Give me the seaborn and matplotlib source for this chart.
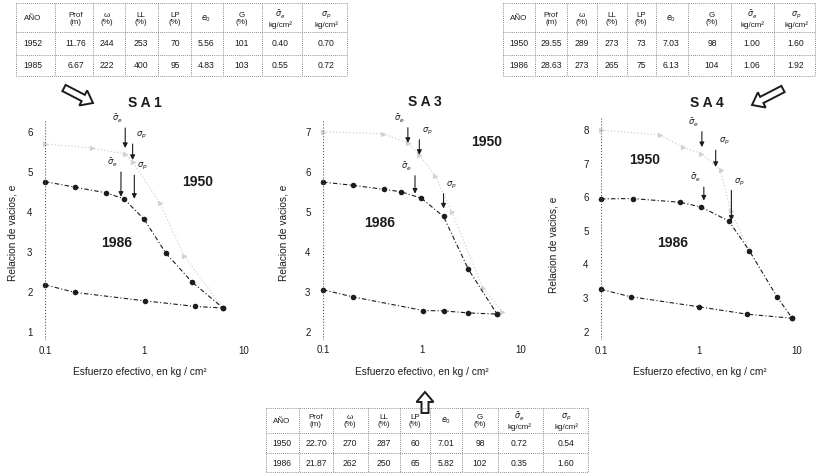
import numpy as np
import pandas as pd
import matplotlib
matplotlib.use("Agg")
import matplotlib.pyplot as plt
import seaborn as sns
from matplotlib.patches import FancyArrow

sns.set_theme(style="white")
plt.rcParams['font.family'] = ['Liberation Sans', 'DejaVu Sans']
plt.rcParams['mathtext.fontset'] = 'dejavusans'

INK = '#1c1c1c'
FAINT = '#d2d2d2'

# ---------------- data ----------------
# SA1
sa1_load_x = [0.1, 0.2, 0.41, 0.62, 0.99, 1.64, 3.0, 6.15]
sa1_load_e = [4.76, 4.62, 4.48, 4.33, 3.82, 2.97, 2.25, 1.60]
sa1_unl_x = [0.1, 0.2, 1.0, 3.2, 6.15]
sa1_unl_e = [2.18, 1.99, 1.78, 1.64, 1.60]
sa1_1950_x = [0.1, 0.3, 0.64, 0.76, 1.43, 2.5, 6.15]
sa1_1950_e = [5.7, 5.6, 5.45, 5.25, 4.22, 2.9, 1.60]
sa1_arrow_x = [0.64, 0.76, 0.58, 0.79]
sa1_arrow_top = [6.1, 5.7, 5.0, 4.92]
sa1_arrow_bot = [5.6, 5.3, 4.38, 4.33]

# SA3
sa3_load_x = [0.1, 0.2, 0.41, 0.61, 0.98, 1.65, 2.94, 5.73]
sa3_load_e = [5.74, 5.66, 5.56, 5.50, 5.34, 4.88, 3.56, 2.44]
sa3_unl_x = [0.1, 0.2, 1.03, 1.65, 2.94, 5.73]
sa3_unl_e = [3.05, 2.87, 2.53, 2.52, 2.47, 2.44]
sa3_1950_x = [0.1, 0.4, 0.72, 0.94, 1.36, 2.0, 4.1, 6.5]
sa3_1950_e = [7.0, 6.95, 6.72, 6.42, 5.9, 5.0, 3.1, 2.5]
sa3_arrow_x = [0.72, 0.94, 0.85, 1.65]
sa3_arrow_top = [7.1, 6.8, 5.9, 5.45]
sa3_arrow_bot = [6.72, 6.42, 5.45, 5.08]

# SA4
sa4_load_x = [0.1, 0.21, 0.64, 1.05, 2.02, 3.26, 6.3, 8.95]
sa4_load_e = [5.95, 5.96, 5.85, 5.71, 5.29, 4.41, 3.02, 2.40]
sa4_unl_x = [0.1, 0.2, 1.0, 3.1, 8.95]
sa4_unl_e = [3.26, 3.04, 2.74, 2.52, 2.40]
sa4_1950_x = [0.1, 0.4, 0.69, 1.06, 1.66, 2.1, 3.26]
sa4_1950_e = [8.0, 7.85, 7.48, 7.3, 6.8, 5.6, 4.41]
sa4_arrow_x = [1.07, 1.48, 1.12, 2.14]
sa4_arrow_top = [7.95, 7.4, 6.3, 6.2]
sa4_arrow_bot = [7.49, 6.9, 5.9, 5.3]

arrow_labels = [r'$\bar{\sigma}_e$', r'$\sigma_p$', r'$\bar{\sigma}_e$', r'$\sigma_p$']

x_ticks = [0.1, 1, 10]
x_tick_labels = ['0.1', '1', '10']
sa1_y_ticks = [1, 2, 3, 4, 5, 6]
sa3_y_ticks = [2, 3, 4, 5, 6, 7]
sa4_y_ticks = [2, 3, 4, 5, 6, 7, 8]

# tables
tbl_headers = ['AÑO', 'Prof\n(m)', 'ω\n(%)', 'LL\n(%)', 'LP\n(%)', r'$e_0$', 'G\n(%)',
               r'$\bar{\sigma}_e$' + '\nkg/cm²', r'$\sigma_p$' + '\nkg/cm²']
sa1_tbl_rows = [['1952', '11.76', '244', '253', '70', '5.56', '101', '0.40', '0.70'],
                ['1985', '6.67', '222', '400', '95', '4.83', '103', '0.55', '0.72']]
sa4_tbl_rows = [['1950', '29.55', '289', '273', '73', '7.03', '98', '1.00', '1.60'],
                ['1986', '28.63', '273', '265', '75', '6.13', '104', '1.06', '1.92']]
sa3_tbl_rows = [['1950', '22.70', '270', '287', '60', '7.01', '98', '0.72', '0.54'],
                ['1986', '21.87', '262', '250', '65', '5.82', '102', '0.35', '1.60']]

# ---------------- figure ----------------
W, H = 816, 473
fig = plt.figure(figsize=(W / 100, H / 100), dpi=100)
fig.patch.set_facecolor('white')

ov = fig.add_axes([0, 0, 1, 1])
ov.set_xlim(0, W)
ov.set_ylim(H, 0)
ov.axis('off')
ov.patch.set_alpha(0)


def px_axes(x0, x1, ytop, ybot):
    ax = fig.add_axes([x0 / W, 1 - ybot / H, (x1 - x0) / W, (ybot - ytop) / H])
    ax.patch.set_alpha(0)
    return ax


def panel(ax, title_xy, title, load_x, load_e, unl_x, unl_e, f_x, f_e,
          ar_x, ar_top, ar_bot, ylim, yticks, lab1950, lab1986, ylab_x, yc, xl_c):
    ax.set_xscale('log')
    sns.lineplot(x=f_x, y=f_e, ax=ax, color=FAINT, linestyle=':', lw=0.9,
                 marker='>', markersize=3, markeredgecolor=FAINT, sort=False,
                 clip_on=False)
    for xs, es in ((load_x, load_e), (unl_x, unl_e)):
        sns.lineplot(x=xs, y=es, ax=ax, color=INK, linestyle=(0, (4, 2, 1, 2)),
                     lw=0.8, marker='o', markersize=4, markeredgewidth=0,
                     sort=False, clip_on=False)
    for i, (xa, t, b) in enumerate(zip(ar_x, ar_top, ar_bot)):
        ax.annotate('', xy=(xa, b), xytext=(xa, t),
                    arrowprops=dict(arrowstyle='-|>', color=INK, lw=0.8,
                                    mutation_scale=7, shrinkA=0, shrinkB=0))
        off = -1 if i % 2 == 0 else 1
        ax.annotate(arrow_labels[i], xy=(xa, t), xytext=(off * 6, 2),
                    textcoords='offset points', ha='center', va='bottom',
                    fontsize=6, color=INK)
    ax.axvline(0.1, ls=':', color='#555', lw=0.8)
    ax.axvline(10, ls=':', color='#dadada', lw=0.7)
    ax.set_xlim(0.1, 10)
    ax.set_ylim(*ylim)
    ax.set_xticks(x_ticks)
    ax.set_xticklabels(x_tick_labels)
    ax.set_yticks(yticks)
    ax.set_yticklabels([str(v) for v in yticks])
    ax.minorticks_off()
    ax.tick_params(length=0, labelsize=7, colors=INK, pad=4)
    ax.tick_params(axis='y', pad=9)
    for s in ax.spines.values():
        s.set_visible(False)
    ax.set_xlabel('')
    ax.set_ylabel('')
    ax.text(lab1950[0], lab1950[1], '1950', fontsize=10, fontweight='bold',
            color=INK, ha='center', va='center')
    ax.text(lab1986[0], lab1986[1], '1986', fontsize=10, fontweight='bold',
            color=INK, ha='center', va='center')
    ov.text(title_xy[0], title_xy[1], title, fontsize=10, fontweight='bold',
            color=INK, ha='center', va='center')
    ov.text(ylab_x, yc, 'Relacion de vacios, e', rotation=90, fontsize=7.3,
            color=INK, ha='center', va='center')
    ov.text(xl_c, 372, 'Esfuerzo efectivo, en kg / cm²', fontsize=7.3,
            color=INK, ha='center', va='center')


ax1 = px_axes(45, 244, 120, 340)
panel(ax1, (145, 103), 'S A 1', sa1_load_x, sa1_load_e, sa1_unl_x, sa1_unl_e,
      sa1_1950_x, sa1_1950_e, sa1_arrow_x, sa1_arrow_top, sa1_arrow_bot,
      (0.8, 6.3), sa1_y_ticks, (3.43, 4.75), (0.53, 3.23), 13, 233, 140)

ax3 = px_axes(323, 521, 119.7, 339.7)
panel(ax3, (425, 102), 'S A 3', sa3_load_x, sa3_load_e, sa3_unl_x, sa3_unl_e,
      sa3_1950_x, sa3_1950_e, sa3_arrow_x, sa3_arrow_top, sa3_arrow_bot,
      (1.8, 7.3), sa3_y_ticks, (4.54, 6.74), (0.377, 4.72), 283, 233, 422)

ax4 = px_axes(601, 797, 118.2, 340.1)
panel(ax4, (707, 103), 'S A 4', sa4_load_x, sa4_load_e, sa4_unl_x, sa4_unl_e,
      sa4_1950_x, sa4_1950_e, sa4_arrow_x, sa4_arrow_top, sa4_arrow_bot,
      (1.75, 8.35), sa4_y_ticks, (0.28, 7.1), (0.54, 4.64), 553, 245, 700)


def draw_table(cols, seps, y_top, y_hsep, y_rsep, y_bot, head_y, row_ys, rows):
    lkw = dict(color='#666', lw=0.6, ls=(0, (1, 1.5)))
    for yy in (y_top, y_hsep, y_rsep, y_bot):
        ov.plot([seps[0], seps[-1]], [yy, yy], **lkw)
    for xx in seps:
        ov.plot([xx, xx], [y_top, y_bot], **lkw)
    for cx, h in zip(cols, tbl_headers):
        ov.text(cx, head_y, h, fontsize=5.8, color=INK, ha='center',
                va='center', linespacing=1.05)
    for ry, row in zip(row_ys, rows):
        for cx, v in zip(cols, row):
            ov.text(cx, ry, v, fontsize=6.2, color=INK, ha='center', va='center')


draw_table([33, 76, 107, 141, 175, 206, 242, 280, 326],
           [16, 55, 93, 125, 158, 191, 223, 262, 302, 347],
           3, 32, 55, 76, 19, [43, 66], sa1_tbl_rows)
draw_table([519, 551, 582, 612, 641, 671, 712, 752, 796],
           [503, 535, 567, 597, 627, 656, 688, 731, 774, 815],
           3, 32, 55, 76, 19, [43, 66], sa4_tbl_rows)
draw_table([282, 316, 350, 384, 415, 446, 480, 519, 566],
           [266, 299, 333, 368, 400, 430, 462, 498, 543, 588],
           408, 433, 453, 472, 421, [443, 463], sa3_tbl_rows)

# hollow pointer arrows
akw = dict(fill=False, ec=INK, lw=1.4, length_includes_head=True)
ov.add_patch(FancyArrow(64, 88, 29, 15, width=7, head_width=17, head_length=11, **akw))
ov.add_patch(FancyArrow(783, 89, -31, 16, width=7, head_width=17, head_length=11, **akw))
ov.add_patch(FancyArrow(425, 413, 0, -21, width=7, head_width=17, head_length=10, **akw))

fig.savefig('out.png', dpi=100, facecolor='white')
